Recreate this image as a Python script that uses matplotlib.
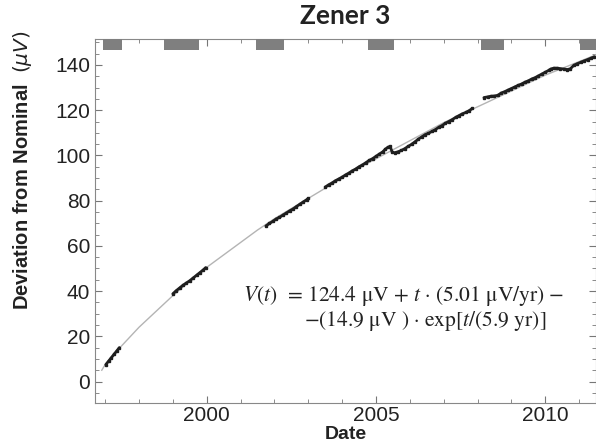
import numpy as np
import matplotlib
matplotlib.use('Agg')
import matplotlib.pyplot as plt
from matplotlib.ticker import MultipleLocator

# measured points (date, deviation in uV)
data_t = [1997.02, 1997.10, 1997.18, 1997.26, 1997.34, 1997.42,
          1999.00, 1999.10, 1999.20, 1999.30, 1999.40, 1999.50, 1999.60, 1999.70, 1999.80, 1999.90, 1999.97,
          2001.75, 2001.85, 2001.95, 2002.05, 2002.15, 2002.25, 2002.35, 2002.45, 2002.55, 2002.65, 2002.75,
          2002.85, 2002.95, 2003.00,
          2003.50, 2003.60, 2003.70, 2003.80, 2003.90, 2004.00, 2004.10, 2004.20, 2004.30, 2004.40, 2004.50,
          2004.60, 2004.70, 2004.80, 2004.90, 2005.00, 2005.10, 2005.20, 2005.28, 2005.35, 2005.42,
          2005.48, 2005.55, 2005.65, 2005.75, 2005.85, 2005.95, 2006.05, 2006.15, 2006.25, 2006.35, 2006.45,
          2006.55, 2006.65, 2006.75, 2006.85, 2006.95, 2007.05, 2007.15, 2007.25, 2007.35, 2007.45, 2007.55,
          2007.65, 2007.75, 2007.85,
          2008.19, 2008.30, 2008.40, 2008.50, 2008.60,
          2008.70, 2008.80, 2008.90, 2009.00, 2009.10, 2009.20, 2009.30, 2009.40, 2009.50, 2009.60, 2009.70,
          2009.80, 2009.90, 2010.00, 2010.10, 2010.16,
          2010.25, 2010.35, 2010.45, 2010.55, 2010.65, 2010.74,
          2010.84, 2010.95, 2011.05, 2011.15, 2011.25, 2011.35, 2011.45]
data_v = [7.5, 9.0, 10.5, 12.0, 13.5, 15.0,
          38.8, 40.2, 41.4, 42.6, 43.6, 44.6, 45.8, 47.0, 48.2, 49.4, 50.4,
          68.8, 69.9, 70.8, 71.9, 72.6, 73.6, 74.5, 75.5, 76.3, 77.4, 78.4,
          79.4, 80.4, 81.0,
          86.0, 87.0, 87.8, 88.8, 89.6, 90.4, 91.4, 92.2, 93.2, 94.0, 95.0,
          95.8, 96.8, 97.8, 98.6, 99.6, 100.6, 101.6, 102.8, 103.6, 104.0,
          101.4, 101.2, 101.6, 102.2, 103.0, 104.0, 104.9, 106.0, 107.2, 108.2, 109.2,
          109.8, 110.6, 111.4, 112.4, 113.2, 114.2, 115.0, 115.8, 116.8, 117.6, 118.4,
          119.0, 119.8, 120.8,
          125.6, 125.9, 126.2, 126.3, 126.6,
          127.6, 128.2, 128.9, 129.6, 130.3, 131.0, 131.6, 132.4, 133.0, 133.8, 134.4,
          135.2, 136.0, 136.8, 137.6, 138.2,
          138.6, 138.6, 138.4, 138.2, 138.0, 138.3,
          139.8, 140.6, 141.2, 141.8, 142.4, 143.0, 143.6]

# fitted curve
fit_t = [1996.9, 1997.0, 1997.5, 1998.0, 1998.5, 1999.0, 1999.5, 2000.0, 2000.5, 2001.0, 2001.5,
         2002.0, 2002.5, 2003.0, 2003.5, 2004.0, 2004.5, 2005.0, 2005.5, 2006.0, 2006.5, 2007.0,
         2007.5, 2008.0, 2008.5, 2009.0, 2009.5, 2010.0, 2010.5, 2011.0, 2011.5]
fit_v = [5.0, 7.5, 16.0, 24.0, 31.0, 38.0, 44.5, 50.5, 56.0, 61.5, 67.0,
         72.0, 76.5, 81.0, 85.5, 90.0, 94.5, 98.5, 102.5, 106.5, 110.5, 114.5,
         118.0, 121.5, 125.0, 128.5, 132.0, 135.5, 138.5, 141.5, 144.5]

# grey bars along the top (start, end year)
bar_start = [1996.95, 1998.75, 2001.46, 2004.75, 2008.11, 2011.03]
bar_end = [1997.51, 1999.77, 2002.29, 2005.53, 2008.77, 2011.6]

fig = plt.figure(figsize=(5.96, 4.47), dpi=100)
ax = fig.add_axes([95 / 596, 1 - 403 / 447, 501 / 596, 364 / 447])

ax.broken_barh([(s, e - s) for s, e in zip(bar_start, bar_end)], (146.5, 8),
               facecolor='#7f7f7f', edgecolor='none', zorder=3)

ax.plot(fit_t, fit_v, color='#b4b4b4', lw=1.0, zorder=2)

t = np.array(data_t)
v = np.array(data_v)
breaks = np.where(np.diff(t) > 0.12)[0] + 1
for st, sv in zip(np.split(t, breaks), np.split(v, breaks)):
    ax.plot(st, sv, color='#1e1e1e', lw=2.0, solid_capstyle='round', zorder=4)
ax.plot(t, v, 's', ms=1.8, color='#1e1e1e', zorder=4)

ax.set_xlim(1996.7, 2011.5)
ax.set_ylim(-9.5, 151.5)
ax.xaxis.set_major_locator(MultipleLocator(5))
ax.xaxis.set_minor_locator(MultipleLocator(1))
ax.yaxis.set_major_locator(MultipleLocator(20))
ax.yaxis.set_minor_locator(MultipleLocator(5))
ax.tick_params(which='both', direction='in', top=True, right=True,
               color='#777777', labelsize=15, labelcolor='#222222')
ax.tick_params(which='major', length=5)
ax.tick_params(which='minor', length=3)
ax.tick_params(axis='x', pad=2)
for lab in ax.get_xticklabels() + ax.get_yticklabels():
    lab.set_family('Liberation Sans')
for sp in ax.spines.values():
    sp.set_color('#888888')

ax.set_title('Zener 3', fontsize=19, fontweight='bold', family='Lato', color='#222222', pad=11)
ax.set_xlabel('Date', fontsize=14, fontweight='bold', family='Liberation Sans', color='#222222', labelpad=1)
ax.set_ylabel(r'Deviation from Nominal  $(\mu V)$', fontsize=14.5, fontweight='bold',
              family='Liberation Sans', color='#222222')
ax.yaxis.set_label_coords(-0.122, 0.64)

plt.rcParams['mathtext.fontset'] = 'stix'
ax.text(0.295, 0.294, r'$V(t)$  = 124.4 μV + $t$ · (5.01 μV/yr) −', transform=ax.transAxes,
        family='STIXGeneral', fontsize=15.5, color='#222222', va='center', ha='left')
ax.text(0.418, 0.226, r'−(14.9 μV ) · exp[$t$/(5.9 yr)]', transform=ax.transAxes,
        family='STIXGeneral', fontsize=15.5, color='#222222', va='center', ha='left')

fig.savefig('out.png', dpi=100)
